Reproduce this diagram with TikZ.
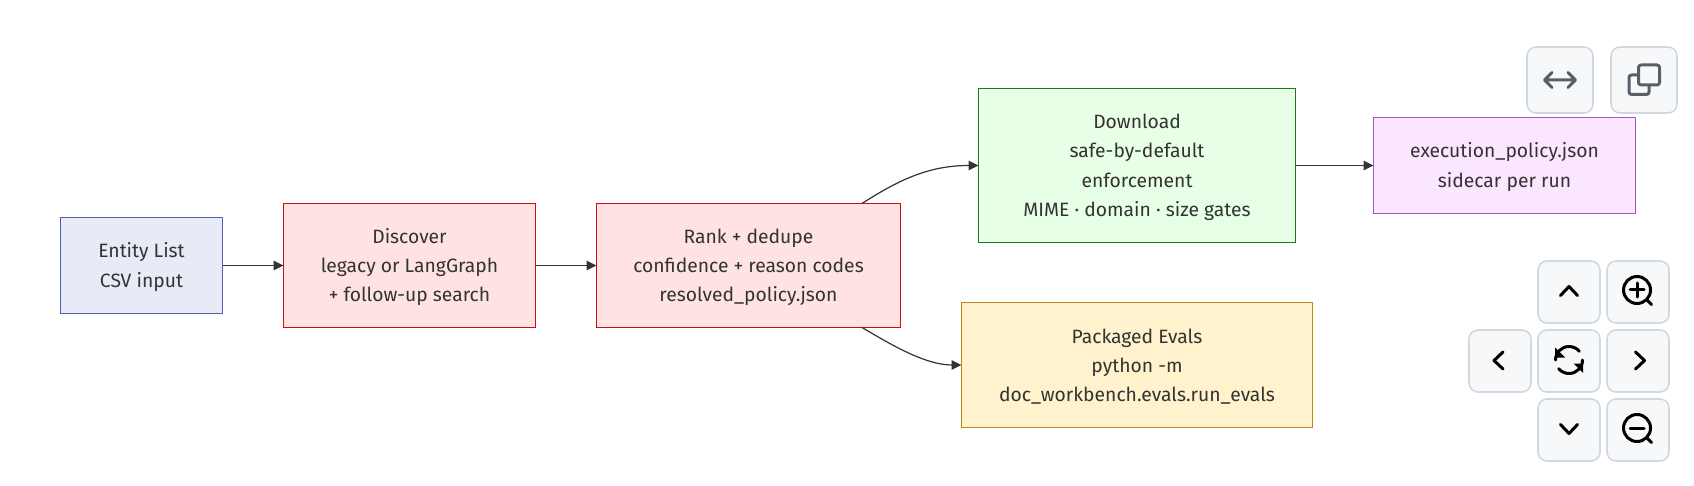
\documentclass[tikz,border=0pt]{standalone}
\usepackage{fontspec}
\setmainfont{Fira Sans}
\usetikzlibrary{arrows.meta}
\definecolor{txt}{HTML}{333333}
\definecolor{edgec}{HTML}{333333}
\definecolor{btnfill}{HTML}{F6F8FA}
\definecolor{btnline}{HTML}{D0D9E2}
\definecolor{iconA}{HTML}{57606A}
\newcommand{\topfix}{\rule{0pt}{18pt}}
\tikzset{
  x=1pt,y=-1pt,
  flowbox/.style={rectangle,draw,line width=1.2pt,align=center,text=txt,inner sep=0pt,
    font=\fontsize{19.3}{29.3}\selectfont,anchor=center},
  bluebox/.style={flowbox,fill=blueF,draw=blueD},
  redbox/.style={flowbox,fill=redF,draw=redD},
  greenbox/.style={flowbox,fill=greenF,draw=greenD},
  yellowbox/.style={flowbox,fill=yellowF,draw=yellowD},
  purplebox/.style={flowbox,fill=purpleF,draw=purpleD},
  link/.style={draw=edgec,line width=1.2pt,shorten >=-0.6pt,-{Triangle[length=10pt,width=9.5pt]}},
  btn/.style={rectangle,rounded corners=9pt,draw=btnline,fill=btnfill,line width=1.6pt,inner sep=0pt,anchor=center},
  ico/.style={draw=black,line width=3pt,line cap=round,line join=round},
  icoA/.style={draw=iconA,line width=3pt,line cap=round,line join=round},
}
\definecolor{blueF}{HTML}{E8EAF6}\definecolor{blueD}{HTML}{5060C0}
\definecolor{redF}{HTML}{FFE3E3}\definecolor{redD}{HTML}{C81010}
\definecolor{greenF}{HTML}{E6FFE6}\definecolor{greenD}{HTML}{1A7A1A}
\definecolor{yellowF}{HTML}{FFF2CC}\definecolor{yellowD}{HTML}{C08A10}
\definecolor{purpleF}{HTML}{FBE6FF}\definecolor{purpleD}{HTML}{9C5FC0}
\begin{document}
\begin{tikzpicture}
\useasboundingbox (0,0) rectangle (1694,486);
\node[bluebox,minimum width=162pt,minimum height=96pt] (entity) at (141.5,265.5) {\topfix Entity List\\CSV input};
\node[redbox,minimum width=252pt,minimum height=124pt] (discover) at (409.5,265.5) {\topfix Discover\\legacy or LangGraph\\+ follow-up search};
\node[redbox,minimum width=304pt,minimum height=124pt] (rank) at (748.5,265.5) {\topfix Rank + dedupe\\confidence + reason codes\\resolved\_policy.json};
\node[greenbox,minimum width=317pt,minimum height=154pt] (download) at (1137,165.5) {\topfix Download\\safe-by-default\\enforcement\\MIME · domain · size gates};
\node[purplebox,minimum width=262pt,minimum height=96pt] (exec) at (1504.5,165.5) {\topfix execution\_policy.json\\sidecar per run};
\node[yellowbox,minimum width=351pt,minimum height=125pt] (evals) at (1137,365) {\topfix Packaged Evals\\python -m\\doc\_workbench.evals.run\_evals};

\coordinate (rankTop) at (862,203.5);
\coordinate (rankBot) at (862,327.5);
\draw[link] (entity.east) -- (discover.west);
\draw[link] (discover.east) -- (rank.west);
\draw[link] (download.east) -- (exec.west);
\draw[link] (rankTop) .. controls (900,179) and (930,165.5) .. (download.west);
\draw[link] (rankBot) .. controls (890,344) and (925,365) .. (evals.west);

% top buttons
\node[btn,minimum width=66pt,minimum height=66pt] (bA) at (1560,80) {};
\node[btn,minimum width=66pt,minimum height=66pt] (bB) at (1644,80) {};
\draw[icoA] (1546,80) -- (1574,80) (1552,72.5) -- (1544.5,80) -- (1552,87.5) (1568,72.5) -- (1575.5,80) -- (1568,87.5);
\draw[icoA,rounded corners=2.5pt] (1638.5,65) rectangle (1659.5,85);
\draw[icoA,rounded corners=2.5pt] (1638,75) -- (1629,75) -- (1629,94.5) -- (1649,94.5) -- (1649,86);

% navigation buttons
\node[btn,minimum width=62pt,minimum height=62pt] (up) at (1569,292) {};
\node[btn,minimum width=62pt,minimum height=62pt] (zin) at (1638,292) {};
\node[btn,minimum width=62pt,minimum height=62pt] (left) at (1500,361) {};
\node[btn,minimum width=62pt,minimum height=62pt] (reset) at (1569,361) {};
\node[btn,minimum width=62pt,minimum height=62pt] (right) at (1638,361) {};
\node[btn,minimum width=62pt,minimum height=62pt] (down) at (1569,430) {};
\node[btn,minimum width=62pt,minimum height=62pt] (zout) at (1638,430) {};
\draw[ico] (1560.5,295.5) -- (1569,286.5) -- (1577.5,295.5);
\draw[ico] (1560.5,424.5) -- (1569,433.5) -- (1577.5,424.5);
\draw[ico] (1503,352) -- (1494,360.5) -- (1503,369);
\draw[ico] (1635.5,352) -- (1644.5,360.5) -- (1635.5,369);
\draw[ico] (1637,290) circle (13.5);
\draw[ico] (1630,290) -- (1644,290) (1637,283) -- (1637,297);
\draw[ico] (1647,300) -- (1651.5,304.5);
\draw[ico] (1637,428) circle (13.5);
\draw[ico] (1630,428) -- (1644,428);
\draw[ico] (1647,438) -- (1651.5,442.5);
\draw[ico] (1582.5,360) arc (0:140:13.5);
\draw[ico] (1555.5,360) arc (180:320:13.5);
\fill (1555,347.5) -- (1555,357.5) -- (1565,357.5) -- cycle;
\fill (1583,373) -- (1583,363.5) -- (1573.5,363.5) -- cycle;
\end{tikzpicture}
\end{document}
